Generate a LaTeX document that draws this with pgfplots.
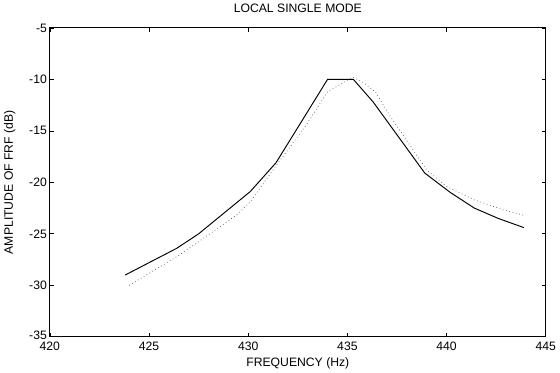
\documentclass[border=0pt]{standalone}
\usepackage{pgfplots}
\pgfplotsset{compat=1.18}
\usepackage{fontspec}
\setmainfont{Liberation Sans}
\begin{document}
\fontsize{9}{11}\selectfont
\begin{tikzpicture}
\begin{axis}[
  scale only axis,
  width=366pt, height=228pt,
  xmin=420, xmax=445, ymin=-35, ymax=-5,
  xtick={420,425,...,445}, ytick={-35,-30,...,-5},
  yticklabels={\raisebox{2.5pt}{-35},-30,-25,-20,-15,-10,-5},
  tick align=inside,
  major tick length=3pt,
  axis line style={line width=0.6pt},
  tick style={black, line width=0.5pt},
  /pgf/number format/assume math mode=true,
  ticklabel style={font=\fontsize{9}{11}\selectfont},
  yticklabel style={xshift=1pt},
  xticklabel style={yshift=-0.5pt},
  title={LOCAL SINGLE MODE},
  title style={font=\fontsize{9}{11}\selectfont, yshift=2pt},
  xlabel={FREQUENCY (Hz)},
  ylabel={AMPLITUDE OF FRF (dB)},
  label style={font=\fontsize{9}{11}\selectfont},
  xlabel style={yshift=1pt},
  ylabel style={yshift=4pt},
  clip=false,
]
\addplot[black, line width=0.7pt] coordinates {
(423.8,-29.0) (426.4,-26.4) (427.5,-25.0) (430.1,-20.9) (431.4,-18.1)
(434.0,-10.0) (435.3,-10.0) (436.3,-12.2) (438.9,-19.1) (440.2,-21.0)
(441.4,-22.5) (442.6,-23.5) (443.9,-24.4)};
\addplot[black!70, line width=0.5pt, dotted] coordinates {
(424.0,-30.0) (426.5,-27.1) (429.4,-23.2) (430.1,-21.9) (431.4,-18.4)
(432.9,-14.5) (434.0,-11.2) (435.0,-10.1) (435.3,-9.8) (435.8,-10.3)
(436.4,-11.2) (437.2,-13.7) (439.0,-18.8) (440.0,-20.4) (441.4,-21.7)
(442.9,-22.7) (443.9,-23.2)};
\end{axis}
\end{tikzpicture}
\end{document}
